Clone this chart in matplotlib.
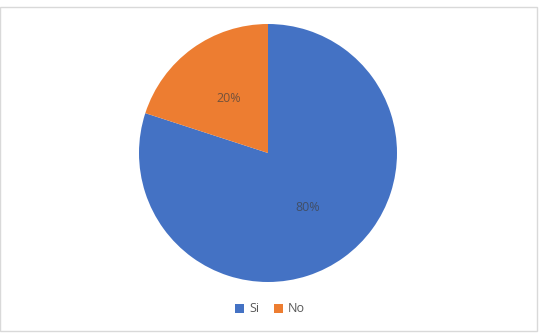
import matplotlib
matplotlib.use("Agg")
import matplotlib.pyplot as plt
from matplotlib.patches import Rectangle, Patch

labels = ["Si", "No"]
values = [80, 20]
colors = ["#4472C4", "#ED7D31"]

plt.rcParams['font.family'] = ['Open Sans', 'DejaVu Sans']

fig = plt.figure(figsize=(5.43, 3.34), dpi=100)
W, H = 543, 334
cx, cy, r = 268, 153, 129
ax = fig.add_axes([(cx - r) / W, (H - cy - r) / H, 2 * r / W, 2 * r / H])
wedges, texts, autotexts = ax.pie(values, colors=colors, startangle=90, counterclock=False,
                                  autopct='%1.0f%%', pctdistance=0.52, radius=1,
                                  wedgeprops=dict(linewidth=0),
                                  textprops=dict(fontsize=9, color='#404040'))
for t in autotexts:
    t.set_alpha(0.7)
ax.set_xlim(-1, 1)
ax.set_ylim(-1, 1)
ax.set_aspect('auto')
ax.axis('off')

# border
fig.patches.append(Rectangle((0.0, 3 / H), 537 / W, (331 - 7) / H, transform=fig.transFigure,
                             fill=False, edgecolor='#D9D9D9', linewidth=1))

handles = [Patch(facecolor=c, edgecolor='none') for c in colors]
fig.legend(handles, labels, loc='center', bbox_to_anchor=(270 / W, (H - 309) / H), ncol=2,
           frameon=False, fontsize=9, handlelength=0.7, handleheight=0.7,
           handletextpad=0.4, columnspacing=1.2, labelcolor='#595959')

fig.savefig("out.png", dpi=100)
